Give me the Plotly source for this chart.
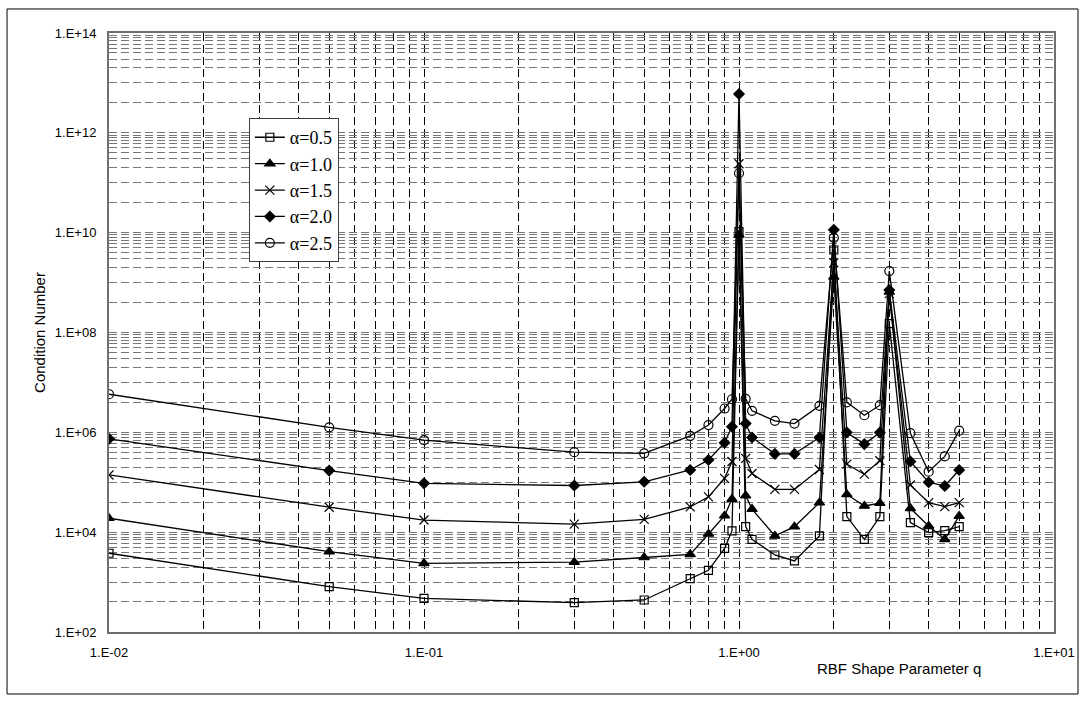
import plotly.graph_objects as go

# RBF shape parameter q
q = [0.01, 0.05, 0.1, 0.3, 0.5, 0.7, 0.8, 0.9, 0.95, 1.0, 1.05, 1.1, 1.3, 1.5,
     1.8, 2.0, 2.2, 2.5, 2.8, 3.0, 3.5, 4.0, 4.5, 5.0]

# condition numbers for each alpha
cond_a05 = [3780, 810, 473, 386, 438, 1170, 1720, 4750, 1.06e4, 1.05e10, 1.29e4, 7200,
            3490, 2650, 8400, 4.5e9, 2.05e4, 7200, 2.05e4, 1.5e8, 1.55e4, 9800, 1.07e4, 1.29e4]
cond_a10 = [1.9e4, 4070, 2380, 2500, 3110, 3600, 9200, 2.14e4, 4.6e4, 9e9, 5.4e4, 2.9e4,
            8400, 1.29e4, 3.9e4, 1.3e9, 5.7e4, 3.35e4, 3.8e4, 6.5e8, 3.0e4, 1.33e4, 7200, 2.1e4]
cond_a15 = [1.4e5, 3.16e4, 1.75e4, 1.45e4, 1.8e4, 3.2e4, 5.1e4, 1.2e5, 2.6e5, 2.4e11, 3.0e5, 1.5e5,
            7.2e4, 7.2e4, 1.8e5, 2.5e9, 2.3e5, 1.45e5, 2.7e5, 6e8, 8.8e4, 3.9e4, 3.25e4, 3.9e4]
cond_a20 = [7.4e5, 1.71e5, 9.5e4, 8.6e4, 1.02e5, 1.76e5, 2.8e5, 6.2e5, 1.3e6, 6.0e12, 1.5e6, 7.9e5,
            3.7e5, 3.7e5, 7.9e5, 1.14e10, 9.9e5, 5.8e5, 9.9e5, 7.1e8, 2.6e5, 1.0e5, 8.4e4, 1.76e5]
cond_a25 = [5.8e6, 1.26e6, 6.95e5, 4.0e5, 3.8e5, 8.5e5, 1.4e6, 3.0e6, 4.6e6, 1.55e11, 4.7e6, 2.7e6,
            1.7e6, 1.5e6, 3.4e6, 7.9e9, 4.0e6, 2.2e6, 3.5e6, 1.7e9, 9.6e5, 1.63e5, 3.3e5, 1.08e6]

series_names = ["α=0.5", "α=1.0", "α=1.5", "α=2.0", "α=2.5"]
series_values = [cond_a05, cond_a10, cond_a15, cond_a20, cond_a25]
series_symbols = ["square-open", "triangle-up", "x-thin-open", "diamond", "circle-open"]
series_sizes = [8, 9, 9, 8, 9]

# axis ticks
x_tick_vals = [0.01, 0.1, 1.0, 10.0]
x_tick_text = ["1.E-02", "1.E-01", "1.E+00", "1.E+01"]
y_major_exp = [2, 4, 6, 8, 10, 12, 14]

# y gridlines: majors every two decades plus the in-between lines
y_grid_vals, y_grid_text = [], []
for e in y_major_exp:
    y_grid_vals.append(10.0 ** e)
    y_grid_text.append("1.E+%02d" % e)
    if e < 14:
        y_grid_vals.append(4 * 10.0 ** e)
        y_grid_text.append("")
        for m in range(1, 10):
            y_grid_vals.append(m * 10.0 ** (e + 1))
            y_grid_text.append("")

x_minor_vals = [m * 10.0 ** d for d in (-2, -1, 0) for m in range(2, 10)]

fig = go.Figure()
for name, vals, sym, sz in zip(series_names, series_values, series_symbols, series_sizes):
    fig.add_trace(go.Scatter(
        x=q, y=vals, name=name, mode="lines+markers",
        line=dict(color="black", width=1.3),
        marker=dict(symbol=sym, size=sz, color="black",
                    line=dict(color="black", width=1.2)),
    ))

fig.update_layout(
    width=1086, height=703,
    margin=dict(l=109, r=32, t=33, b=71),
    paper_bgcolor="white", plot_bgcolor="white",
    font=dict(family="Liberation Sans, Arial", color="black", size=13),
    showlegend=True,
    legend=dict(
        x=0.148, y=0.858, xanchor="left", yanchor="top",
        bgcolor="white", bordercolor="#404040", borderwidth=1,
        font=dict(family="Liberation Serif, Times New Roman", size=18, color="black"),
        traceorder="normal",
    ),
)

fig.update_xaxes(
    type="log", range=[-2, 1],
    tickvals=x_tick_vals, ticktext=x_tick_text,
    tickfont=dict(size=13), ticks="", ticklabelstandoff=7,
    showgrid=True, gridcolor="black", gridwidth=1, griddash="8px,4px",
    minor=dict(tickvals=x_minor_vals, showgrid=True, gridcolor="black",
               gridwidth=1, griddash="8px,4px"),
    showline=True, linecolor="#6e6e6e", linewidth=2, mirror=True,
    zeroline=False,
)
fig.update_yaxes(
    type="log", range=[2, 14],
    tickvals=y_grid_vals, ticktext=y_grid_text,
    tickfont=dict(size=13), ticks="", ticklabelstandoff=8,
    showgrid=True, gridcolor="#767676", gridwidth=1.35, griddash="8px,4px",
    showline=True, linecolor="#6e6e6e", linewidth=2, mirror=True,
    zeroline=False,
    title=dict(text="Condition Number", font=dict(size=15), standoff=6),
)

# x-axis title sits toward the right under the axis
fig.add_annotation(
    text="RBF Shape Parameter q", xref="paper", yref="paper",
    x=0.836, y=-0.044, xanchor="center", yanchor="top", showarrow=False,
    font=dict(size=15, color="black"),
)

# outer chart frame
fig.add_shape(type="rect", xref="paper", yref="paper",
              x0=-0.1079, x1=1.0254, y0=-0.1035, y1=1.0401,
              line=dict(color="black", width=1), fillcolor="rgba(0,0,0,0)",
              layer="below")

fig.write_html("out.html")
